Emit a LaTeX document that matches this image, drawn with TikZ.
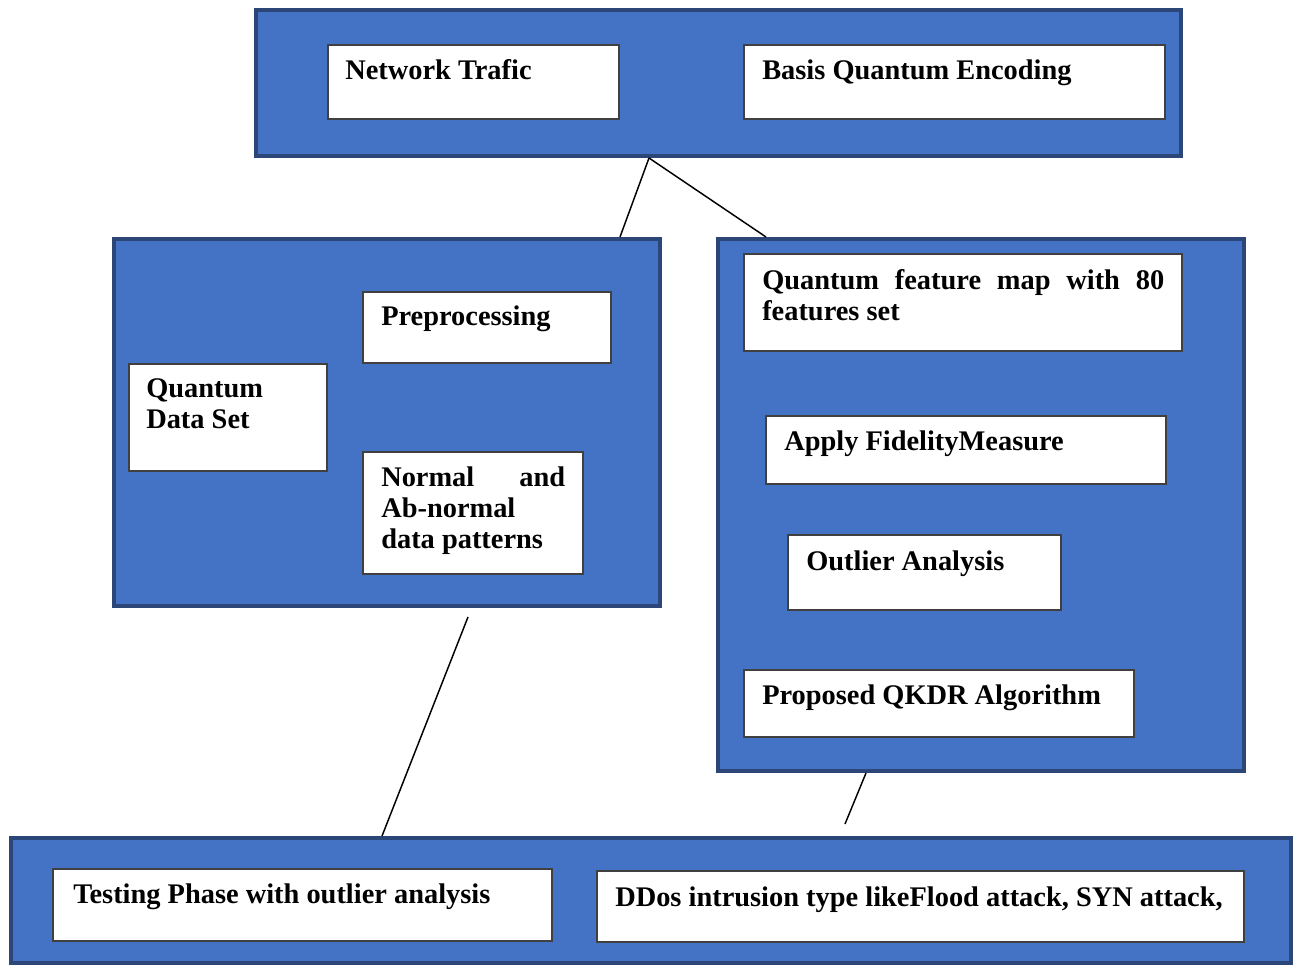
\documentclass[tikz,border=0pt]{standalone}
\usepackage{fontspec}
\setmainfont{Liberation Serif}
\usetikzlibrary{fit}
\definecolor{qblue}{HTML}{4472C4}
\definecolor{qnavy}{HTML}{2B4677}
\definecolor{wline}{HTML}{404040}
\tikzset{
  outerbox/.style={draw=qnavy, fill=qblue, line width=3pt, inner sep=0pt},
  whitebox/.style={draw=wline, fill=white, line width=0.9pt, inner sep=0pt},
  txt/.style={anchor=base west, inner sep=0pt, align=left,
    font=\bfseries\fontsize{21.3}{23}\selectfont},
  conn/.style={draw=black, line width=1.1pt}
}
\begin{document}
\begin{tikzpicture}[x=0.75pt, y=-0.75pt]
\useasboundingbox (0,0) rectangle (1299,967);
% outer boxes
\node[outerbox, fit={(256,10) (1181,156)}] (top) {};
\node[outerbox, fit={(114,239) (660,606)}] (left) {};
\node[outerbox, fit={(718,239) (1244,771)}] (right) {};
\node[outerbox, fit={(11,838) (1291,963)}] (bottom) {};
% top white boxes
\node[whitebox, fit={(328,45) (619,119)}] (net) {};
\node[txt] (netT) at (345,79) {Network Trafic};
\node[whitebox, fit={(744,45) (1165,119)}] (enc) {};
\node[txt] (encT) at (762,79) {Basis Quantum Encoding};
% left group
\node[whitebox, fit={(363,292) (611,363)}] (pre) {};
\node[txt] (preT) at (381,325) {Preprocessing};
\node[whitebox, fit={(129,364) (327,471)}] (qds) {};
\node[txt] (qdsT) at (146,428) {Quantum\\Data Set};
\node[whitebox, fit={(363,452) (583,574)}] (nor) {};
\node[txt] (norT) at (381,548) {\makebox[138pt][l]{Normal\hfill and}\\Ab-normal\\data patterns};
% right group
\node[whitebox, fit={(744,254) (1182,351)}] (qfm) {};
\node[txt] (qfmT) at (762,320) {\makebox[301.5pt][s]{Quantum feature map with 80}\\features set};
\node[whitebox, fit={(766,416) (1166,484)}] (fid) {};
\node[txt] (fidT) at (784,450) {Apply FidelityMeasure};
\node[whitebox, fit={(788,535) (1061,610)}] (out) {};
\node[txt] (outT) at (806,570) {Outlier Analysis};
\node[whitebox, fit={(744,670) (1134,737)}] (qkdr) {};
\node[txt] (qkdrT) at (762,704) {Proposed QKDR Algorithm};
% bottom group
\node[whitebox, fit={(53,869) (552,941)}] (test) {};
\node[txt] (testT) at (73,903) {Testing Phase with outlier analysis};
\node[whitebox, fit={(597,871) (1244,942)}] (ddos) {};
\node[txt] (ddosT) at (615,906) {DDos intrusion type likeFlood attack, SYN attack,};
% connectors
\coordinate (j0) at (649,158);
\coordinate (jl) at (620,237);
\coordinate (jr) at (766,237);
\coordinate (l0) at (468,617);
\coordinate (l1) at (382,836);
\coordinate (r0) at (866,773);
\coordinate (r1) at (845,824);
\draw[conn] (j0) -- (jl);
\draw[conn] (j0) -- (jr);
\draw[conn] (l0) -- (l1);
\draw[conn] (r0) -- (r1);
\end{tikzpicture}
\end{document}
